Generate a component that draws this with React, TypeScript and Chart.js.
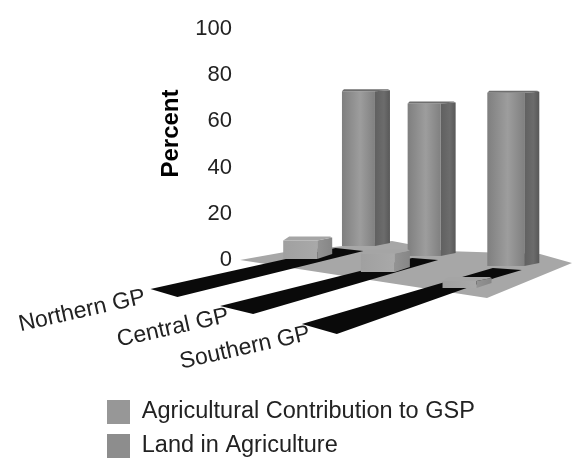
import React, { useEffect, useRef } from "react";
import { Chart, registerables } from "chart.js";

Chart.register(...registerables);

const categories = ["Northern GP", "Central GP", "Southern GP"];
const agriculturalContribution = [8, 8, 3];
const landInAgriculture = [67, 66, 75];
const seriesNames = ["Agricultural Contribution to GSP", "Land in Agriculture"];
const yTicks = [0, 20, 40, 60, 80, 100];

const FONT = "'Liberation Sans', Arial, sans-serif";
// oblique-projection offsets of the floor, per series then per category
const SHIFT_X = [[27, -6, -35], [41, -4, -33]];
const SHIFT_Y = [[-1, 12, 28], [-14, -4, 6]];
const LAND_WIDTH = [33, 33, 37];
const SIDE = 15;

const LABEL_POS = [[82, 311], [173, 328], [245, 348]];
const STRIP_REL = [
  [[-208, 43], [-181, 51], [5, 5], [-23, 2]],
  [[-204, 50], [-171, 58], [14, 4], [-12, 2]],
  [[-204, 58], [-169, 68], [-11, 12], [16, 4], [-13, 2]],
];

const scene = {
  id: "scene",
  afterDatasetsUpdate(chart: any) {
    const ctx = chart.ctx;
    chart.data.datasets.forEach((_: any, s: number) => {
      chart.getDatasetMeta(s).data.forEach((el: any, c: number) => {
        el.x += SHIFT_X[s][c];
        el.y += SHIFT_Y[s][c];
        el.base += SHIFT_Y[s][c];
        el.width = s === 1 ? LAND_WIDTH[c] : 34;
        const l = el.x - el.width / 2;
        const g = ctx.createLinearGradient(l, 0, l + el.width, 0);
        if (s === 1) {
          g.addColorStop(0, "#7f7f7f");
          g.addColorStop(0.55, "#9d9d9d");
          g.addColorStop(1, "#808080");
        } else {
          g.addColorStop(0, "#a0a0a0");
          g.addColorStop(1, "#a9a9a9");
        }
        el.options = Object.assign({}, el.options, { backgroundColor: g });
      });
    });
  },
  beforeDatasetsDraw(chart: any) {
    const ctx = chart.ctx;
    const land = chart.getDatasetMeta(1).data;
    const floorBase = chart.scales.y.getPixelForValue(0);
    ctx.save();
    ctx.fillStyle = "#a7a7a7";
    ctx.beginPath();
    ctx.moveTo(240, floorBase);
    ctx.lineTo(285, floorBase - 8);
    ctx.lineTo(392, floorBase - 19);
    ctx.lineTo(445, floorBase - 9);
    ctx.lineTo(540, floorBase - 6);
    ctx.lineTo(572, floorBase + 3);
    ctx.lineTo(487, floorBase + 38);
    ctx.closePath();
    ctx.fill();
    ctx.fillStyle = "#0a0a0a";
    STRIP_REL.forEach((pts, i) => {
      const ax = land[i].x;
      const ay = land[i].base;
      ctx.beginPath();
      pts.forEach((p, k) => {
        if (k === 0) ctx.moveTo(ax + p[0], ay + p[1]);
        else ctx.lineTo(ax + p[0], ay + p[1]);
      });
      ctx.closePath();
      ctx.fill();
    });
    ctx.restore();
    // category labels follow the floor direction
    ctx.save();
    ctx.fillStyle = "#222";
    ctx.font = `23px ${FONT}`;
    ctx.textAlign = "center";
    ctx.textBaseline = "middle";
    chart.data.labels.forEach((t: string, i: number) => {
      ctx.save();
      ctx.translate(LABEL_POS[i][0], LABEL_POS[i][1]);
      ctx.rotate(-0.22);
      ctx.fillText(t, 0, 0);
      ctx.restore();
    });
    ctx.restore();
  },
  afterDatasetDraw(chart: any, args: any) {
    const ctx = chart.ctx;
    const s = args.index;
    ctx.save();
    args.meta.data.forEach((el: any) => {
      const r = el.x + el.width / 2;
      const l = el.x - el.width / 2;
      const up = s === 1 ? 1 : 3;
      const g = ctx.createLinearGradient(r, 0, r + SIDE, 0);
      if (s === 1) {
        g.addColorStop(0, "#606060");
        g.addColorStop(0.6, "#6c6c6c");
        g.addColorStop(1, "#585858");
      } else {
        g.addColorStop(0, "#939393");
        g.addColorStop(1, "#868686");
      }
      ctx.fillStyle = g;
      ctx.beginPath();
      ctx.moveTo(r, el.y);
      ctx.lineTo(r + SIDE, el.y - up);
      ctx.lineTo(r + SIDE, el.base - up - 2);
      ctx.lineTo(r, el.base);
      ctx.closePath();
      ctx.fill();
      const topH = s === 1 ? 2 : 4;
      ctx.fillStyle = s === 1 ? "#6e6e6e" : "#a5a5a5";
      ctx.beginPath();
      ctx.moveTo(l, el.y);
      ctx.lineTo(l + (s === 1 ? 2 : 6), el.y - topH);
      ctx.lineTo(r + SIDE - 2, el.y - topH);
      ctx.lineTo(r + SIDE, el.y - up);
      ctx.lineTo(r, el.y);
      ctx.closePath();
      ctx.fill();
    });
    ctx.restore();
  },
};

export default function App() {
  const ref = useRef<HTMLCanvasElement>(null);
  useEffect(() => {
    const chart = new Chart(ref.current!, {
      type: "bar",
      data: {
        labels: categories,
        datasets: [
          { label: seriesNames[0], data: agriculturalContribution, backgroundColor: "#979797", clip: false },
          { label: seriesNames[1], data: landInAgriculture, backgroundColor: "#8d8d8d", clip: false },
        ] as any,
      },
      plugins: [scene],
      options: {
        animation: false,
        responsive: false,
        categoryPercentage: 0.8,
        barPercentage: 0.75,
        layout: { padding: { left: 97, top: 29, right: 0, bottom: -8 } },
        plugins: {
          tooltip: { enabled: false },
          legend: {
            position: "bottom",
            align: "start",
            labels: {
              boxWidth: 23,
              boxHeight: 24,
              padding: 10,
              color: "#222",
              font: { family: FONT, size: 23.5 },
            },
          },
        },
        scales: {
          x: {
            grid: { display: false },
            border: { display: false },
            ticks: { display: false },
            afterFit(scale: any) {
              scale.height = 130;
            },
          },
          y: {
            min: 0,
            max: 100,
            afterBuildTicks(scale: any) {
              scale.ticks = yTicks.map((value) => ({ value }));
            },
            afterFit(scale: any) {
              scale.width = 143;
              // the title sits a little above the middle of the axis
              scale.drawTitle = function () {
                const c = this.ctx;
                c.save();
                c.translate(0, -11);
                Object.getPrototypeOf(this).drawTitle.call(this);
                c.restore();
              };
            },
            grid: { display: false },
            border: { display: false },
            ticks: { color: "#222", padding: 0, font: { family: FONT, size: 22 } },
            title: {
              display: true,
              text: "Percent",
              color: "#000",
              padding: { top: 60, bottom: 0 },
              font: { family: FONT, size: 24, weight: "bold" },
            },
          },
        },
      } as any,
    });
    return () => chart.destroy();
  }, []);
  return (
    <div style={{ position: "fixed", left: 0, top: 0, width: 572, height: 460, background: "#fff" }}>
      <canvas ref={ref} width={572} height={460} style={{ display: "block", filter: "blur(0.6px)" }} />
    </div>
  );
}
